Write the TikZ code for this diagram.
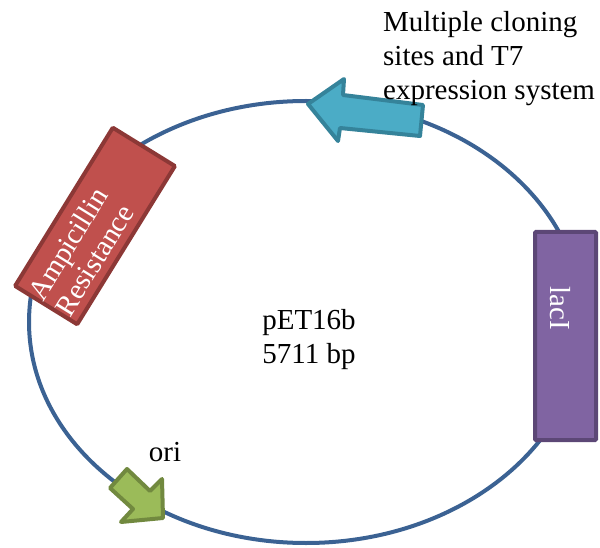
\documentclass[tikz,border=0pt]{standalone}
\usepackage{fontspec}
\setmainfont{Liberation Serif}
\definecolor{ringblue}{HTML}{3B6293}
\definecolor{mcsfill}{HTML}{4BACC6}
\definecolor{mcsline}{HTML}{35839A}
\definecolor{ampfill}{HTML}{C0504D}
\definecolor{ampline}{HTML}{8C3836}
\definecolor{lacfill}{HTML}{8064A2}
\definecolor{lacline}{HTML}{5C4776}
\definecolor{orifill}{HTML}{9BBB59}
\definecolor{oriline}{HTML}{71893F}
\begin{document}
\begin{tikzpicture}[x=1pt,y=-1pt,
  ring/.style={draw=ringblue,line width=4pt},
  mcsarrow/.style={draw=mcsline,fill=mcsfill,line width=4pt,line join=round},
  oriarrow/.style={draw=oriline,fill=orifill,line width=4pt,line join=round},
  ampbox/.style={draw=ampline,fill=ampfill,line width=4pt,rectangle,rounded corners=1pt,
    minimum width=186pt,minimum height=73pt,inner sep=0pt},
  lacbox/.style={draw=lacline,fill=lacfill,line width=4pt,rectangle,rounded corners=1pt,
    minimum width=61pt,minimum height=208pt,inner sep=0pt},
  lbl/.style={font=\fontsize{29}{34}\selectfont,inner sep=0pt},
  wlbl/.style={font=\fontsize{29}{31}\selectfont,inner sep=0pt,text=white}
]
\useasboundingbox (0,0) rectangle (600,548);
% plasmid ring
\draw[ring] (306,322) ellipse [x radius=277, y radius=221];
% MCS / T7 arrow
\draw[mcsarrow] (308,104) -- (344,79) -- (343,95) -- (423,105) -- (420,136) -- (340,128) -- (338,141) -- cycle;
% Ampicillin resistance box
\node[ampbox,rotate=58.3] (amp) at (95,226) {};
\node[wlbl,align=center,rotate=58.3] (amptext) at (81,252) {Ampicillin\\Resistance};
% lacI box
\node[lacbox] (lac) at (565.5,336) {};
\node[wlbl,rotate=-90] (lactext) at (560,308) {lacI};
% ori arrow
\draw[oriarrow] (163,518) -- (121,522) -- (133,509) -- (110,488) -- (127,469) -- (150,491) -- (162,479) -- cycle;
% labels
\node[lbl,align=left,anchor=north west] (mcs) at (383,11) {Multiple cloning\\sites and T7\\expression system};
\node[lbl,align=center] (name) at (309,340) {pET16b\\5711 bp};
\node[lbl] (ori) at (165,452) {ori};
\end{tikzpicture}
\end{document}
